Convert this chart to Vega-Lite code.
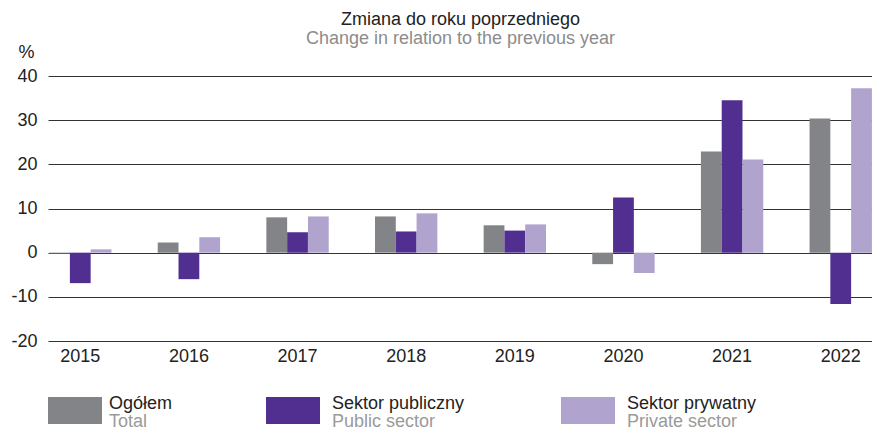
{
  "$schema": "https://vega.github.io/schema/vega-lite/v6.json",
  "autosize": {"type": "pad"},
  "padding": {"left": 10, "top": 11, "right": 0, "bottom": 0},
  "background": "white",
  "config": {
    "font": "Liberation Sans",
    "view": {"stroke": null},
    "concat": {"spacing": 0}
  },
  "bounds": "flush",
  "spacing": 56,
  "vconcat": [
    {
      "title": {
        "text": "Zmiana do roku poprzedniego",
        "subtitle": "Change in relation to the previous year",
        "anchor": "middle",
        "frame": "group",
        "fontSize": 18,
        "fontWeight": "normal",
        "color": "#222222",
        "subtitleFontSize": 18,
        "subtitleColor": "#8c8c8c",
        "subtitlePadding": 1,
        "offset": -5
      },
      "width": 825,
      "height": 265,
      "data": {
        "values": [
          {"year": "2015", "series": "Ogółem", "value": -0.2},
          {"year": "2015", "series": "Sektor publiczny", "value": -6.9},
          {"year": "2015", "series": "Sektor prywatny", "value": 0.75},
          {"year": "2016", "series": "Ogółem", "value": 2.3},
          {"year": "2016", "series": "Sektor publiczny", "value": -6.0},
          {"year": "2016", "series": "Sektor prywatny", "value": 3.5},
          {"year": "2017", "series": "Ogółem", "value": 8.0},
          {"year": "2017", "series": "Sektor publiczny", "value": 4.6},
          {"year": "2017", "series": "Sektor prywatny", "value": 8.2},
          {"year": "2018", "series": "Ogółem", "value": 8.2},
          {"year": "2018", "series": "Sektor publiczny", "value": 4.8},
          {"year": "2018", "series": "Sektor prywatny", "value": 8.9},
          {"year": "2019", "series": "Ogółem", "value": 6.2},
          {"year": "2019", "series": "Sektor publiczny", "value": 5.0},
          {"year": "2019", "series": "Sektor prywatny", "value": 6.4},
          {"year": "2020", "series": "Ogółem", "value": -2.6},
          {"year": "2020", "series": "Sektor publiczny", "value": 12.5},
          {"year": "2020", "series": "Sektor prywatny", "value": -4.6},
          {"year": "2021", "series": "Ogółem", "value": 22.9},
          {"year": "2021", "series": "Sektor publiczny", "value": 34.5},
          {"year": "2021", "series": "Sektor prywatny", "value": 21.1},
          {"year": "2022", "series": "Ogółem", "value": 30.4},
          {"year": "2022", "series": "Sektor publiczny", "value": -11.6},
          {"year": "2022", "series": "Sektor prywatny", "value": 37.2}
        ]
      },
      "mark": {"type": "bar"},
      "encoding": {
        "x": {
          "field": "year",
          "type": "ordinal",
          "scale": {"paddingInner": 0.426, "paddingOuter": 0.01},
          "axis": {
            "title": null,
            "labelAngle": 0,
            "labelFontSize": 18,
            "labelColor": "#222222",
            "ticks": false,
            "domain": false,
            "labelPadding": 6
          }
        },
        "xOffset": {
          "field": "series",
          "type": "nominal",
          "sort": ["Ogółem", "Sektor publiczny", "Sektor prywatny"],
          "scale": {"paddingInner": 0, "paddingOuter": 0}
        },
        "y": {
          "field": "value",
          "type": "quantitative",
          "scale": {"domain": [-20, 40], "nice": false},
          "axis": {
            "values": [-20, -10, 0, 10, 20, 30, 40],
            "labelExpr": "'' + datum.value",
            "grid": true,
            "gridColor": "#333333",
            "gridWidth": 1,
            "gridOpacity": 1,
            "domain": false,
            "ticks": false,
            "labelFontSize": 18,
            "labelColor": "#222222",
            "labelPadding": 11,
            "title": "%",
            "titleAngle": 0,
            "titleAlign": "center",
            "titleBaseline": "alphabetic",
            "titleFontSize": 18,
            "titleFontWeight": "normal",
            "titleColor": "#222222",
            "titleX": -22,
            "titleY": -19
          }
        },
        "color": {
          "field": "series",
          "type": "nominal",
          "scale": {
            "domain": ["Ogółem", "Sektor publiczny", "Sektor prywatny"],
            "range": ["#838488", "#512f91", "#b0a3cd"]
          },
          "legend": null
        }
      }
    },
    {
      "bounds": "flush",
      "spacing": 0,
      "hconcat": [
        {
          "width": 54,
          "height": 27,
          "data": {"values": [{"pl": "Ogółem", "en": "Total"}]},
          "layer": [
            {
              "mark": {"type": "point", "shape": "M-1,-0.5H1V0.5H-1Z", "size": 2916, "filled": true, "opacity": 1, "strokeWidth": 0},
              "encoding": {
                "color": {"field": "pl", "type": "nominal", "scale": {"domain": ["Ogółem", "Sektor publiczny", "Sektor prywatny"], "range": ["#838488", "#512f91", "#b0a3cd"]}, "legend": null}
              }
            },
            {
              "mark": {"type": "text", "align": "left", "baseline": "alphabetic", "dx": 34, "dy": -2, "fontSize": 18, "color": "#222222"},
              "encoding": {"text": {"field": "pl"}}
            },
            {
              "mark": {"type": "text", "align": "left", "baseline": "alphabetic", "dx": 34, "dy": 16.5, "fontSize": 18, "color": "#9a9a9a"},
              "encoding": {"text": {"field": "en"}}
            }
          ]
        },
        {
          "width": 382,
          "height": 27,
          "data": {"values": [{"pl": "Sektor publiczny", "en": "Public sector"}]},
          "layer": [
            {
              "mark": {"type": "point", "shape": "M-1,-0.5H1V0.5H-1Z", "size": 2916, "filled": true, "opacity": 1, "strokeWidth": 0},
              "encoding": {
                "color": {"field": "pl", "type": "nominal", "scale": {"domain": ["Ogółem", "Sektor publiczny", "Sektor prywatny"], "range": ["#838488", "#512f91", "#b0a3cd"]}, "legend": null}
              }
            },
            {
              "mark": {"type": "text", "align": "left", "baseline": "alphabetic", "dx": 39, "dy": -2, "fontSize": 18, "color": "#222222"},
              "encoding": {"text": {"field": "pl"}}
            },
            {
              "mark": {"type": "text", "align": "left", "baseline": "alphabetic", "dx": 39, "dy": 16.5, "fontSize": 18, "color": "#9a9a9a"},
              "encoding": {"text": {"field": "en"}}
            }
          ]
        },
        {
          "width": 208,
          "height": 27,
          "data": {"values": [{"pl": "Sektor prywatny", "en": "Private sector"}]},
          "layer": [
            {
              "mark": {"type": "point", "shape": "M-1,-0.5H1V0.5H-1Z", "size": 2916, "filled": true, "opacity": 1, "strokeWidth": 0},
              "encoding": {
                "color": {"field": "pl", "type": "nominal", "scale": {"domain": ["Ogółem", "Sektor publiczny", "Sektor prywatny"], "range": ["#838488", "#512f91", "#b0a3cd"]}, "legend": null}
              }
            },
            {
              "mark": {"type": "text", "align": "left", "baseline": "alphabetic", "dx": 39, "dy": -2, "fontSize": 18, "color": "#222222"},
              "encoding": {"text": {"field": "pl"}}
            },
            {
              "mark": {"type": "text", "align": "left", "baseline": "alphabetic", "dx": 39, "dy": 16.5, "fontSize": 18, "color": "#9a9a9a"},
              "encoding": {"text": {"field": "en"}}
            }
          ]
        }
      ]
    }
  ]
}
